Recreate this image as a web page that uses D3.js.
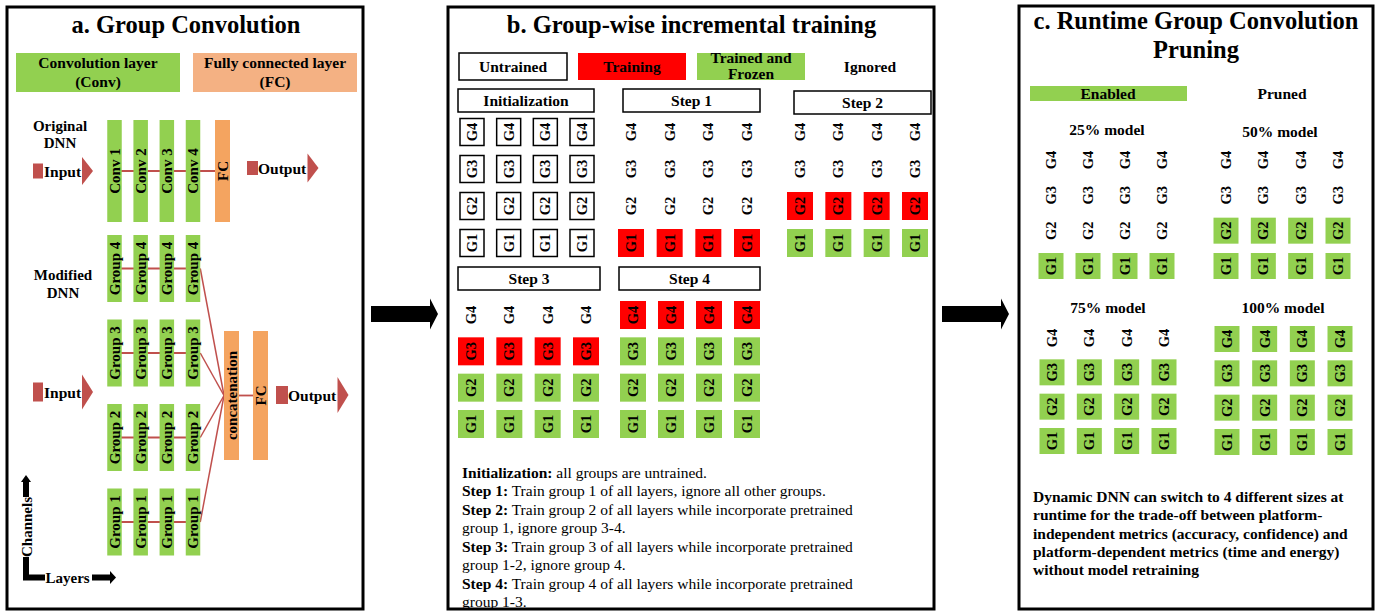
<!DOCTYPE html>
<html>
<head>
<meta charset="utf-8">
<title>Dynamic DNN overview</title>
<script src="https://cdn.jsdelivr.net/npm/d3@7"></script>
<style>
  body { margin: 0; background: #fff; }
  svg text { font-family: "Liberation Serif", "Times New Roman", serif; fill: #000; }
</style>
</head>
<body>
<div id="figure"></div>
<script>
// ---- data ----
var panelTitles = ["a. Group Convolution", "b. Group-wise incremental training", "c. Runtime Group Convolution", "Pruning"];
var layerKinds = [["Convolution layer", "(Conv)"], ["Fully connected layer", "(FC)"]];
var convNames = ["Conv 1", "Conv 2", "Conv 3", "Conv 4"];
var groupNames = ["Group 4", "Group 3", "Group 2", "Group 1"];
var cellGroups = ["G1", "G2", "G3", "G4"];
var stateNames = ["Untrained", "Training", "Trained and Frozen", "Ignored"];
var stepNames = ["Initialization", "Step 1", "Step 2", "Step 3", "Step 4"];
// state of G1..G4 at each step: U untrained, T training, F trained and frozen, I ignored
var stepStates = [
  ["U", "U", "U", "U"],
  ["T", "I", "I", "I"],
  ["F", "T", "I", "I"],
  ["F", "F", "T", "I"],
  ["F", "F", "F", "T"]
];
var modelNames = ["25% model", "50% model", "75% model", "100% model"];
var enabledGroups = [1, 2, 3, 4];
var pruneLegend = ["Enabled", "Pruned"];
var stepNotes = [
  ["Initialization:", " all groups are untrained."],
  ["Step 1:", " Train group 1 of all layers, ignore all other groups."],
  ["Step 2:", " Train group 2 of all layers while incorporate pretrained"],
  ["", "group 1, ignore group 3-4."],
  ["Step 3:", " Train group 3 of all layers while incorporate pretrained"],
  ["", "group 1-2, ignore group 4."],
  ["Step 4:", " Train group 4 of all layers while incorporate pretrained"],
  ["", "group 1-3."]
];
var pruningNote = [
  "Dynamic DNN can switch to 4 different sizes at",
  "runtime for the trade-off between platform-",
  "independent metrics (accuracy, confidence) and",
  "platform-dependent metrics (time and energy)",
  "without model retraining"
];

// colours
var green = "#92D050", red = "#FF0000", orange = "#F4A460", lightOrange = "#F4B183", wire = "#C0504D";
var stateFill = {U: "#fff", T: red, F: green, I: "none"};

var svg = d3.select("#figure").append("svg")
  .attr("width", 1383).attr("height", 612);

// panel frames
var frames = [[7, 7, 356, 602], [448, 7, 486, 602], [1019, 6, 354, 603]];
svg.selectAll("rect.frame").data(frames).enter().append("rect")
  .attr("class", "frame")
  .attr("x", d => d[0]).attr("y", d => d[1])
  .attr("width", d => d[2]).attr("height", d => d[3])
  .attr("fill", "none").attr("stroke", "#000").attr("stroke-width", 3);

// big arrows between panels
function bigArrow(x0, x1, cy) {
  var pts = [[x0, cy - 8], [x1 - 8, cy - 8], [x1 - 8, cy - 15.5], [x1, cy], [x1 - 8, cy + 15.5], [x1 - 8, cy + 8], [x0, cy + 8]];
  svg.append("polygon").attr("points", pts.join(" ")).attr("fill", "#000");
}
bigArrow(371, 438, 314);
bigArrow(942, 1009, 314);

function txt(g, x, y, s, size, weight, anchor) {
  return g.append("text").attr("x", x).attr("y", y)
    .attr("font-size", size).attr("font-weight", weight || "bold")
    .attr("text-anchor", anchor || "middle").text(s);
}
function vtxt(g, x, y, s, size) {
  return g.append("text")
    .attr("transform", "translate(" + x + "," + y + ") rotate(-90)")
    .attr("font-size", size).attr("font-weight", "bold")
    .attr("text-anchor", "middle").attr("dominant-baseline", "central").text(s);
}

// ================= panel a =================
var pa = svg.append("g");
txt(pa, 186, 33, panelTitles[0], 24.5);

var kindX = [[16, 180], [193, 357]];
layerKinds.forEach(function(k, i) {
  pa.append("rect").attr("x", kindX[i][0]).attr("y", 53)
    .attr("width", kindX[i][1] - kindX[i][0]).attr("height", 39)
    .attr("fill", i == 0 ? green : lightOrange);
  var cx = (kindX[i][0] + kindX[i][1]) / 2;
  txt(pa, cx, 68, k[0], 15.5);
  txt(pa, cx, 87, k[1], 15.5);
});

txt(pa, 60, 131, "Original", 15);
txt(pa, 60, 148, "DNN", 15);
txt(pa, 63, 280, "Modified", 15);
txt(pa, 63, 298, "DNN", 15);

var layerX = d3.scalePoint().domain(d3.range(convNames.length)).range([114.5, 193]);
var groupY = d3.scalePoint().domain(groupNames).range([268.5, 522]);
var barW = 14.5;

// wires
pa.append("line").attr("x1", layerX(0)).attr("x2", 222.5).attr("y1", 171).attr("y2", 171)
  .attr("stroke", wire).attr("stroke-width", 1.8);
groupNames.forEach(function(gname) {
  pa.append("line").attr("x1", layerX(0)).attr("x2", layerX(3)).attr("y1", groupY(gname)).attr("y2", groupY(gname))
    .attr("stroke", wire).attr("stroke-width", 1.8);
  pa.append("line").attr("x1", layerX(3) + barW / 2).attr("x2", 224).attr("y1", groupY(gname)).attr("y2", 395.5)
    .attr("stroke", wire).attr("stroke-width", 1.5);
});
pa.append("line").attr("x1", 239).attr("x2", 253).attr("y1", 395.5).attr("y2", 395.5)
  .attr("stroke", wire).attr("stroke-width", 1.8);

// original DNN bars
convNames.forEach(function(c, i) {
  pa.append("rect").attr("x", layerX(i) - barW / 2).attr("y", 120).attr("width", barW).attr("height", 102).attr("fill", green);
  vtxt(pa, layerX(i), 171, c, 15);
});
pa.append("rect").attr("x", 215).attr("y", 120).attr("width", 15).attr("height", 102).attr("fill", orange);
vtxt(pa, 222.5, 171, "FC", 15);

// modified DNN bars
groupNames.forEach(function(gname) {
  convNames.forEach(function(c, i) {
    pa.append("rect").attr("x", layerX(i) - barW / 2).attr("y", groupY(gname) - 33.5)
      .attr("width", barW).attr("height", 67).attr("fill", green);
    vtxt(pa, layerX(i), groupY(gname), gname, 15);
  });
});
pa.append("rect").attr("x", 224).attr("y", 331).attr("width", 15).attr("height", 129).attr("fill", orange);
vtxt(pa, 231.5, 395.5, "concatenation", 15);
pa.append("rect").attr("x", 253).attr("y", 331).attr("width", 15).attr("height", 129).attr("fill", orange);
vtxt(pa, 260.5, 395.5, "FC", 15);

// input / output markers
function ioMark(sqX, sqW, sqH, cy, label, textX, triX, triH) {
  pa.append("rect").attr("x", sqX).attr("y", cy - sqH / 2).attr("width", sqW).attr("height", sqH).attr("fill", wire);
  txt(pa, textX, cy + 5.5, label, 15.5, "bold", "start");
  pa.append("polygon")
    .attr("points", [[triX, cy - triH / 2], [triX + 11, cy], [triX, cy + triH / 2]].join(" "))
    .attr("fill", wire);
}
ioMark(33, 10, 15, 171, "Input", 44, 82, 28);
ioMark(247, 11, 14, 168, "Output", 258, 307.5, 29);
ioMark(33, 10, 19, 392, "Input", 44, 82, 35);
ioMark(276, 12, 18, 395, "Output", 288, 337.5, 36);

// channels / layers axes
pa.append("line").attr("x1", 26).attr("x2", 26).attr("y1", 580).attr("y2", 481).attr("stroke", "#000").attr("stroke-width", 6);
pa.append("polygon").attr("points", "21,482 26,475 31,482").attr("fill", "#000");
pa.append("line").attr("x1", 23).attr("x2", 110).attr("y1", 577.5).attr("y2", 577.5).attr("stroke", "#000").attr("stroke-width", 6);
pa.append("polygon").attr("points", "110,571 116,577.5 110,584").attr("fill", "#000");
pa.append("rect").attr("x", 19).attr("y", 497).attr("width", 14).attr("height", 60).attr("fill", "#fff");
vtxt(pa, 26.5, 527, "Channels", 15);
pa.append("rect").attr("x", 45).attr("y", 570).attr("width", 47).attr("height", 16).attr("fill", "#fff");
txt(pa, 45.5, 582.5, "Layers", 15, "bold", "start");

// ================= panel b =================
var pb = svg.append("g");
txt(pb, 691.5, 33, panelTitles[1], 24.5);

var legendX = d3.scalePoint().domain(stateNames).range([513, 870]);
var legendState = ["U", "T", "F", "I"];
stateNames.forEach(function(s, i) {
  var st = legendState[i];
  if (st != "I") {
    pb.append("rect").attr("x", legendX(s) - 54).attr("y", 53).attr("width", 108).attr("height", 27)
      .attr("fill", stateFill[st]).attr("stroke", st == "U" ? "#000" : "none").attr("stroke-width", 1.5);
  }
  if (s == "Trained and Frozen") {
    txt(pb, legendX(s), 63, "Trained and", 15.5);
    txt(pb, legendX(s), 79, "Frozen", 15.5);
  } else {
    txt(pb, legendX(s), 71.5, s, 15.5);
  }
});

var stepLayout = [
  {x0: 458, x1: 594, hy: 89, c0: 472, c1: 582, r4: 132, r1: 243},
  {x0: 623, x1: 760, hy: 89, c0: 631, c1: 747, r4: 132, r1: 243},
  {x0: 794, x1: 931, hy: 91, c0: 800, c1: 915, r4: 132, r1: 243},
  {x0: 458, x1: 600, hy: 267, c0: 471, c1: 586, r4: 315, r1: 424},
  {x0: 619, x1: 760, hy: 267, c0: 633, c1: 747, r4: 315, r1: 424}
];

function cellGrid(g, L, states, w, h) {
  var xs = d3.scalePoint().domain(d3.range(4)).range([L.c0, L.c1]);
  var ys = d3.scalePoint().domain(cellGroups).range([L.r1, L.r4]);
  cellGroups.forEach(function(cg, gi) {
    var st = states[gi];
    d3.range(4).forEach(function(li) {
      if (st != "I") {
        g.append("rect").attr("x", xs(li) - w / 2).attr("y", ys(cg) - h / 2)
          .attr("width", w).attr("height", h).attr("fill", stateFill[st])
          .attr("stroke", st == "U" ? "#000" : "none").attr("stroke-width", 1.5);
      }
      vtxt(g, xs(li), ys(cg), cg, 14.5);
    });
  });
}

stepNames.forEach(function(s, i) {
  var L = stepLayout[i];
  pb.append("rect").attr("x", L.x0).attr("y", L.hy).attr("width", L.x1 - L.x0).attr("height", 23)
    .attr("fill", "#fff").attr("stroke", "#000").attr("stroke-width", 1.5);
  txt(pb, (L.x0 + L.x1) / 2, L.hy + 17, s, 15.5);
  cellGrid(pb, L, stepStates[i], i == 0 ? 24 : 26, i == 0 ? 27 : 28);
});

var noteY = d3.scalePoint().domain(d3.range(stepNotes.length)).range([477.5, 607]);
stepNotes.forEach(function(n, i) {
  var t = pb.append("text").attr("x", 462).attr("y", noteY(i)).attr("font-size", 15.5);
  t.append("tspan").attr("font-weight", "bold").text(n[0]);
  t.append("tspan").attr("font-weight", "normal").text(n[1]);
});

// ================= panel c =================
var pc = svg.append("g");
txt(pc, 1196, 29, panelTitles[2], 24.5);
txt(pc, 1196, 58, panelTitles[3], 24.5);

pc.append("rect").attr("x", 1030).attr("y", 86).attr("width", 157).attr("height", 15).attr("fill", green);
txt(pc, 1108, 99, pruneLegend[0], 15.5);
txt(pc, 1282, 99, pruneLegend[1], 15.5);

var modelLayout = [
  {lx: 1107, ly: 135, c0: 1051, c1: 1162, r4: 160, r1: 266},
  {lx: 1280, ly: 137, c0: 1226, c1: 1338, r4: 160, r1: 266},
  {lx: 1108, ly: 313, c0: 1052, c1: 1164, r4: 338, r1: 441},
  {lx: 1283, ly: 313, c0: 1227, c1: 1340, r4: 339, r1: 442}
];
modelNames.forEach(function(m, i) {
  var L = modelLayout[i];
  txt(pc, L.lx, L.ly, m, 15.5);
  var states = cellGroups.map((cg, gi) => gi < enabledGroups[i] ? "F" : "I");
  cellGrid(pc, L, states, 25, 26);
});

var pnY = d3.scalePoint().domain(d3.range(pruningNote.length)).range([502, 575]);
pruningNote.forEach(function(line, i) {
  txt(pc, 1033, pnY(i), line, 15.5, "bold", "start");
});
</script>
</body>
</html>
